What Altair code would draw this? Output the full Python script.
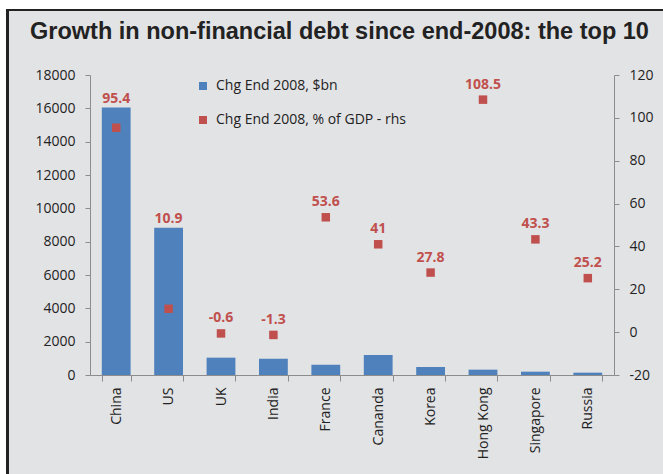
import altair as alt
import pandas as pd

countries = ["China", "US", "UK", "India", "France", "Cananda", "Korea",
             "Hong Kong", "Singapore", "Russia"]
chg_bn = [16050, 8830, 1040, 980, 620, 1200, 480, 320, 200, 140]
chg_pct = [95.4, 10.9, -0.6, -1.3, 53.6, 41, 27.8, 108.5, 43.3, 25.2]
label_bn = "Chg End 2008, $bn"
label_pct = "Chg End 2008, % of GDP - rhs"
title_text = "Growth in non-financial debt since end-2008: the top 10"

left_ticks = list(range(0, 18001, 2000))
right_ticks = list(range(-20, 121, 20))

BLUE = "#4f81bd"
RED = "#c0504d"
BG = "#e2e3e5"
AX = "#8c8c8c"
FONT = "Open Sans"

df = pd.DataFrame({"country": countries, "bn": chg_bn, "pct": chg_pct})
W, H = 524, 300
L_MAX = 18000
R_MIN, R_MAX = -20, 120

base = alt.Chart(df)
xenc = alt.X("country:N", sort=countries, title=None,
             scale=alt.Scale(paddingInner=0.45, paddingOuter=0.225),
             axis=alt.Axis(labelAngle=-90, tickBand="extent", tickSize=6,
                           labelPadding=6, domainColor=AX, tickColor=AX,
                           labelFont=FONT, labelFontSize=14, labelColor="#222"))

color_scale = alt.Scale(domain=[label_bn, label_pct], range=[BLUE, RED])
legend = alt.Legend(title=None, orient="none", legendX=106, legendY=4,
                    symbolType="square", symbolSize=64, symbolStrokeWidth=0,
                    labelFont=FONT, labelFontSize=14, labelColor="#222",
                    labelLimit=400, rowPadding=20, labelOffset=6, padding=0)

bars = base.transform_calculate(series=alt.expr.toString(label_bn)).mark_bar().encode(
    x=xenc,
    y=alt.Y("bn:Q", title=None,
            scale=alt.Scale(domain=[0, L_MAX], nice=False, zero=True),
            axis=alt.Axis(values=left_ticks, format="d", orient="left",
                          grid=False, tickSize=5, labelPadding=10,
                          domainColor=AX, tickColor=AX, labelFont=FONT,
                          labelFontSize=14, labelColor="#222")),
    color=alt.Color("series:N", scale=color_scale, legend=legend),
)

yr_scale = alt.Scale(domain=[R_MIN, R_MAX], nice=False, zero=False)
points = base.transform_calculate(series=alt.expr.toString(label_pct)).mark_point(
    shape="square", filled=True, size=72, opacity=1).encode(
    x=xenc,
    y=alt.Y("pct:Q", title=None, scale=yr_scale,
            axis=alt.Axis(values=right_ticks, orient="right", grid=False,
                          tickSize=5, labelPadding=10, domainColor=AX,
                          tickColor=AX, labelFont=FONT, labelFontSize=14,
                          labelColor="#222", labelExpr="'' + datum.value")),
    color=alt.Color("series:N", scale=color_scale, legend=legend),
)

labels = base.transform_calculate(
    anchor=f"max(datum.pct, {R_MIN} + datum.bn*{R_MAX - R_MIN}/{L_MAX} - 3)",
    pct_s="'' + datum.pct",
).mark_text(color=RED, font=FONT, fontSize=14, fontWeight="bold",
            baseline="alphabetic", dy=-11).encode(
    x=xenc,
    y=alt.Y("anchor:Q", scale=yr_scale, axis=None),
    text=alt.Text("pct_s:N"),
)

one = alt.Chart(alt.Data(values=[{"k": 1}]))
white_top = one.mark_rect(color="white").encode(
    x=alt.value(-90), x2=alt.value(W + 49), y=alt.value(-75), y2=alt.value(-66))
white_left = one.mark_rect(color="white").encode(
    x=alt.value(-90), x2=alt.value(-84), y=alt.value(-75), y2=alt.value(H + 99))
border_top = one.mark_rect(color="#222").encode(
    x=alt.value(-84), x2=alt.value(W + 49), y=alt.value(-66), y2=alt.value(-64))
border_left = one.mark_rect(color="#222").encode(
    x=alt.value(-84), x2=alt.value(-81), y=alt.value(-66), y2=alt.value(H + 99))
title = one.mark_text(font="Liberation Sans", fontSize=23.5, fontWeight="bold",
                      color="#222", align="left", baseline="middle").encode(
    x=alt.value(-60), y=alt.value(-43), text=alt.value(title_text))

chart = alt.layer(
    white_top, white_left, border_top, border_left, title,
    bars, points, labels
).resolve_scale(y="independent").properties(
    width=W, height=H,
    autosize=alt.AutoSizeParams(type="none"),
    padding={"left": 90, "top": 75, "right": 49, "bottom": 99},
    background=BG,
).configure_view(strokeWidth=0)

chart.save("out.html", embed_options={"renderer": "svg", "actions": False})
